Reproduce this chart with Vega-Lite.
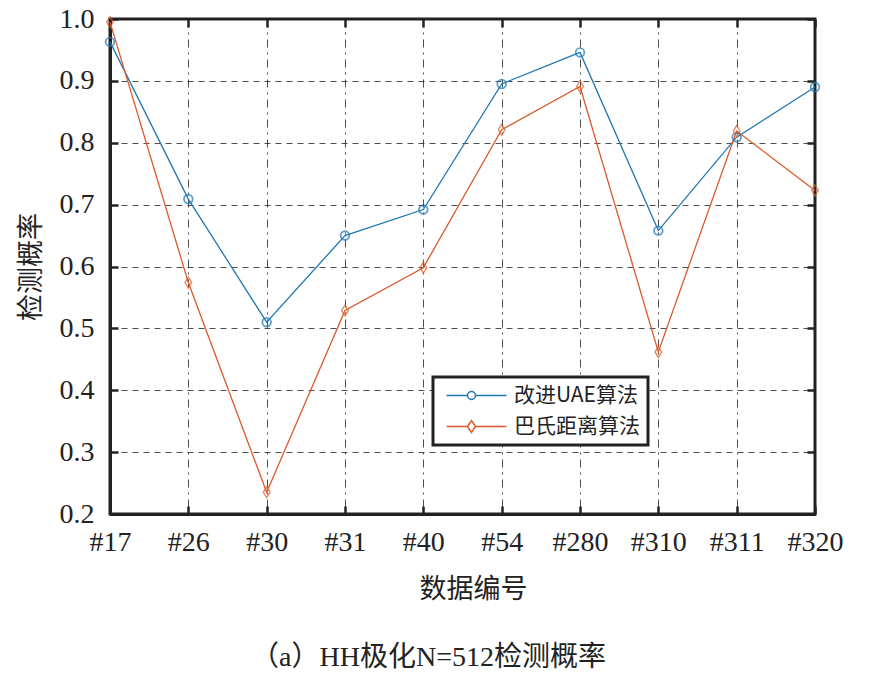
{
  "$schema": "https://vega.github.io/schema/vega-lite/v6.json",
  "autosize": {"type": "none"},
  "width": 705,
  "height": 495,
  "padding": {"left": 110, "top": 19, "right": 61, "bottom": 182},
  "background": "white",
  "title": {
    "text": "（a）HH极化N=512检测概率",
    "orient": "bottom",
    "anchor": "middle",
    "dx": -34,
    "offset": 42,
    "font": "Liberation Serif, Noto Sans CJK SC",
    "fontSize": 28,
    "fontWeight": "normal",
    "color": "#222"
  },
  "config": {
    "font": "Liberation Serif, serif",
    "view": {"stroke": "#222", "strokeWidth": 3},
    "axis": {
      "labelFont": "Liberation Serif, Times New Roman, serif",
      "labelFontSize": 28,
      "labelColor": "#222",
      "titleFont": "Noto Sans CJK SC",
      "titleFontSize": 27,
      "titleFontWeight": "normal",
      "titleColor": "#222",
      "domainColor": "#222",
      "domainWidth": 3,
      "tickColor": "#222",
      "tickWidth": 2.5,
      "tickSize": -8,
      "gridColor": "#222",
      "gridWidth": 1,
      "gridOpacity": 0.8
    },
    "legend": {
      "labelFont": "Noto Sans CJK SC",
      "labelFontSize": 21,
      "labelColor": "#222"
    }
  },
  "data": {
    "values": [
      {"id": "#17", "series": "改进UAE算法", "value": 0.963},
      {"id": "#26", "series": "改进UAE算法", "value": 0.709},
      {"id": "#30", "series": "改进UAE算法", "value": 0.510},
      {"id": "#31", "series": "改进UAE算法", "value": 0.650},
      {"id": "#40", "series": "改进UAE算法", "value": 0.692},
      {"id": "#54", "series": "改进UAE算法", "value": 0.895},
      {"id": "#280", "series": "改进UAE算法", "value": 0.946},
      {"id": "#310", "series": "改进UAE算法", "value": 0.658},
      {"id": "#311", "series": "改进UAE算法", "value": 0.809},
      {"id": "#320", "series": "改进UAE算法", "value": 0.890},
      {"id": "#17", "series": "巴氏距离算法", "value": 0.995},
      {"id": "#26", "series": "巴氏距离算法", "value": 0.574},
      {"id": "#30", "series": "巴氏距离算法", "value": 0.235},
      {"id": "#31", "series": "巴氏距离算法", "value": 0.529},
      {"id": "#40", "series": "巴氏距离算法", "value": 0.598},
      {"id": "#54", "series": "巴氏距离算法", "value": 0.821},
      {"id": "#280", "series": "巴氏距离算法", "value": 0.891},
      {"id": "#310", "series": "巴氏距离算法", "value": 0.462},
      {"id": "#311", "series": "巴氏距离算法", "value": 0.819},
      {"id": "#320", "series": "巴氏距离算法", "value": 0.723}
    ]
  },
  "resolve": {"axis": {"x": "independent", "y": "independent"}},
  "layer": [
    {
      "mark": {"type": "line", "strokeWidth": 1.3},
      "encoding": {
        "x": {
          "field": "id",
          "type": "ordinal",
          "sort": null,
          "scale": {"type": "point", "padding": 0},
          "axis": {
            "orient": "bottom",
            "title": "数据编号",
            "titleX": 363,
            "titlePadding": 20,
            "labelAngle": 0,
            "labelPadding": 22,
            "grid": true,
            "gridDash": [8, 5, 2, 5]
          }
        },
        "y": {
          "field": "value",
          "type": "quantitative",
          "scale": {"domain": [0.2, 1.0], "zero": false, "nice": false},
          "axis": {
            "orient": "left",
            "title": "检测概率",
            "titlePadding": 14,
            "values": [0.2, 0.3, 0.4, 0.5, 0.6, 0.7, 0.8, 0.9, 1.0],
            "format": ".1f",
            "labelPadding": 24,
            "grid": true,
            "gridDash": [6, 5]
          }
        },
        "color": {
          "field": "series",
          "type": "nominal",
          "sort": ["改进UAE算法", "巴氏距离算法"],
          "scale": {"domain": ["改进UAE算法", "巴氏距离算法"], "range": ["#1f77b4", "#d95a2b"]},
          "legend": {
            "title": null,
            "orient": "none",
            "legendX": 323,
            "legendY": 358,
            "padding": 8,
            "fillColor": "white",
            "strokeColor": "#222",
            "symbolSize": 100,
            "symbolStrokeWidth": 1.5,
            "labelOffset": 52,
            "rowPadding": 9,
            "labelLimit": 300,
            "encode": {
              "legend": {"update": {"strokeWidth": {"value": 3}}},
              "symbols": {
                "update": {
                  "shape": {"signal": "datum.value === '改进UAE算法' ? 'M-1,0H3.2M4.8,0H11M3.2,0A0.8,0.8 0 1,1 4.8,0A0.8,0.8 0 1,1 3.2,0' : 'M-1,0H3.2M4.8,0H11M3.2,0L4,-1.2L4.8,0L4,1.2Z'"},
                  "fill": {"value": "transparent"}
                }
              }
            }
          }
        }
      }
    },
    {
      "transform": [{"filter": "datum.series === '改进UAE算法'"}],
      "mark": {"type": "point", "shape": "circle", "filled": false, "strokeWidth": 1.8, "size": 75},
      "encoding": {
        "x": {
          "field": "id",
          "type": "ordinal",
          "sort": null,
          "axis": {"orient": "top", "labels": false, "title": null, "grid": false, "domain": false}
        },
        "y": {
          "field": "value",
          "type": "quantitative",
          "axis": {"orient": "right", "labels": false, "title": null, "grid": false, "domain": false, "values": [0.2, 0.3, 0.4, 0.5, 0.6, 0.7, 0.8, 0.9, 1.0]}
        },
        "color": {"field": "series", "type": "nominal", "legend": null}
      }
    },
    {
      "transform": [{"filter": "datum.series === '巴氏距离算法'"}],
      "mark": {"type": "point", "shape": "M0,-1.3L0.8,0L0,1.3L-0.8,0Z", "filled": false, "strokeWidth": 1.4, "size": 70},
      "encoding": {
        "x": {"field": "id", "type": "ordinal", "sort": null, "axis": null},
        "y": {"field": "value", "type": "quantitative", "axis": null},
        "color": {"field": "series", "type": "nominal", "legend": null}
      }
    }
  ]
}
